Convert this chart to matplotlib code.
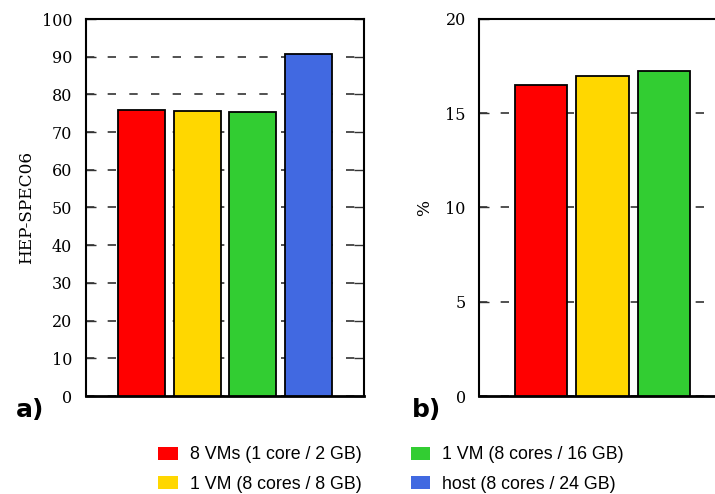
import matplotlib
matplotlib.use("Agg")
import matplotlib.pyplot as plt
from matplotlib.patches import Patch

labels = ["8 VMs (1 core / 2 GB)", "1 VM (8 cores / 8 GB)",
          "1 VM (8 cores / 16 GB)", "host (8 cores / 24 GB)"]
colors = ["#ff0000", "#ffd700", "#32cd32", "#4169e1"]
hepspec = [75.9, 75.5, 75.2, 90.7]
overhead = [16.5, 16.95, 17.25]

a_ticks = list(range(0, 101, 10))
b_ticks = [0, 5, 10, 15, 20]

fig = plt.figure(figsize=(7.15, 4.94), dpi=100)
serif = "DejaVu Serif"

def style(ax, ticks, ylim, pad):
    ax.set_ylim(*ylim)
    ax.set_yticks(ticks)
    ax.set_yticklabels([str(t) for t in ticks], family=serif, fontsize=11.5)
    ax.set_xticks([])
    ax.tick_params(axis="y", direction="in", length=7, width=1, left=True,
                   right=True, pad=pad, color="#333333")
    ax.yaxis.grid(True, color="#333333", linestyle=(0, (5, 8)), linewidth=1.2)
    ax.set_axisbelow(True)
    for s in ax.spines.values():
        s.set_linewidth(1.5)
    ax.spines["bottom"].set_linewidth(2)

axa = fig.add_axes([86/715, 1-396/494, (364-86)/715, (396-19)/494])
axa.bar(range(4), hepspec, width=0.85, color=colors, edgecolor="black",
        linewidth=1.3, zorder=3)
axa.set_xlim(-1, 4)
style(axa, a_ticks, (0, 100), 10)
axa.set_ylabel("HEP-SPEC06", family=serif, fontsize=12.2, labelpad=5)

axb = fig.add_axes([479/715, 1-396/494, (726-479)/715, (396-19)/494])
axb.bar(range(3), overhead, width=0.85, color=colors[:3], edgecolor="black",
        linewidth=1.3, zorder=3)
axb.set_xlim(-1, 3)
style(axb, b_ticks, (0, 20), 9.5)
axb.set_ylabel("%", family=serif, fontsize=12.2, labelpad=8.5)

fig.text(16/715, 1-410/494, "a)", fontsize=18, fontweight="bold",
         family="DejaVu Sans", va="center", ha="left")
fig.text(412/715, 1-410/494, "b)", fontsize=18, fontweight="bold",
         family="DejaVu Sans", va="center", ha="left")

handles = [Patch(facecolor=c, edgecolor="none") for c in colors]
fig.legend(handles, labels, loc="center", bbox_to_anchor=(391/715, 1-469.5/494),
           ncol=2, frameon=False, prop={"family": "Liberation Sans", "size": 12.8},
           handlelength=1.12, handleheight=0.79, handletextpad=0.67,
           columnspacing=2.75, labelspacing=0.68, borderpad=0)

fig.savefig("out.png", dpi=100)
